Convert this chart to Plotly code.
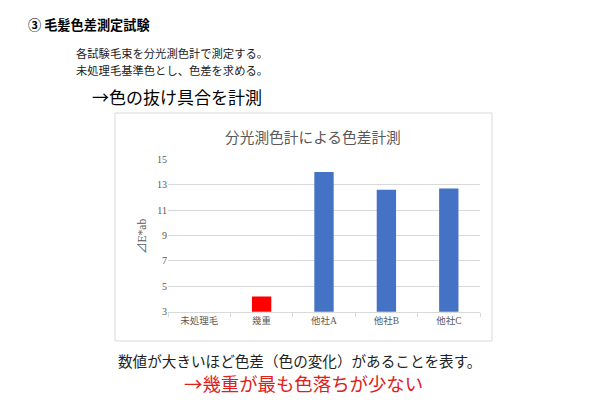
import plotly.graph_objects as go

# Datos del gráfico
categorias = ["未処理毛", "幾重", "他社A", "他社B", "他社C"]
valores = [0, 4.2, 14.0, 12.6, 12.7]
destacado = "幾重"
y_ticks = [3, 5, 7, 9, 11, 13, 15]

# la página tiene 8px de margen en el body
OFF = 8
W, H = 599 - OFF, 411 - OFF
SERIF = "Liberation Serif, Noto Sans CJK JP, serif"
SANS = "Noto Sans CJK JP, sans-serif"
GRIS = "#595959"


def px(x):
    return (x - OFF) / W


def py(y):
    return (H - (y - OFF)) / H


colores = ["#FF0000" if c == destacado else "#4472C4" for c in categorias]

fig = go.Figure()

fig.add_trace(go.Bar(
    x=categorias, y=valores,
    marker=dict(color=colores, line=dict(width=0)),
    hoverinfo="x+y"
))

fig.update_layout(
    width=W, height=H,
    margin=dict(l=0, r=0, t=0, b=0),
    paper_bgcolor="white",
    plot_bgcolor="white",
    bargap=0.69,
    showlegend=False,
    xaxis=dict(
        domain=[px(168), px(480)],
        showline=True, linecolor="#d9d9d9", linewidth=1,
        ticks="outside", tickson="boundaries", ticklen=4, tickcolor="#d9d9d9",
        tickfont=dict(family=SERIF, size=9.5, color=GRIS),
        automargin=False,
    ),
    yaxis=dict(
        domain=[py(311.7), py(159.3)],
        range=[3, 15],
        tickvals=y_ticks,
        showgrid=True, gridcolor="#d9d9d9", gridwidth=1,
        zeroline=False, showline=False,
        tickfont=dict(family=SERIF, size=10, color=GRIS),
        automargin=False,
    ),
)

# Marco del gráfico
fig.add_shape(type="rect", xref="paper", yref="paper",
              x0=px(115), x1=px(492), y0=py(341), y1=py(113),
              line=dict(color="#d9d9d9", width=1), layer="below")

textos = [
    dict(text="③ 毛髪色差測定試験", x=26, y=25, size=13.2, fam=SANS, color="black", anchor="left", bold=True),
    dict(text="各試験毛束を分光測色計で測定する。", x=74, y=53, size=11.3, fam=SERIF, color="#222222", anchor="left"),
    dict(text="未処理毛基準色とし、色差を求める。", x=74, y=70, size=11.3, fam=SERIF, color="#222222", anchor="left"),
    dict(text="→色の抜け具合を計測", x=90, y=97, size=17, fam=SANS, color="black", anchor="left"),
    dict(text="分光測色計による色差計測", x=313, y=138, size=14.7, fam=SERIF, color=GRIS, anchor="center"),
    dict(text="数値が大きいほど色差（色の変化）があることを表す。", x=299, y=362, size=14.6, fam=SERIF, color="#222222", anchor="center"),
    dict(text="→幾重が最も色落ちが少ない", x=303, y=383, size=18.4, fam=SANS, color="#E0201A", anchor="center"),
]
for t in textos:
    txt = "<b>" + t["text"] + "</b>" if t.get("bold") else t["text"]
    fig.add_annotation(
        text=txt, xref="paper", yref="paper",
        x=px(t["x"]), y=py(t["y"]),
        xanchor=t["anchor"], yanchor="middle",
        showarrow=False,
        font=dict(family=t["fam"], size=t["size"], color=t["color"])
    )

# Título del eje Y
fig.add_annotation(
    text="⊿E*ab", xref="paper", yref="paper",
    x=px(142), y=py(237), textangle=-90,
    showarrow=False, xanchor="center", yanchor="middle",
    font=dict(family=SERIF, size=11.5, color=GRIS)
)

fig.write_html("out.html")
